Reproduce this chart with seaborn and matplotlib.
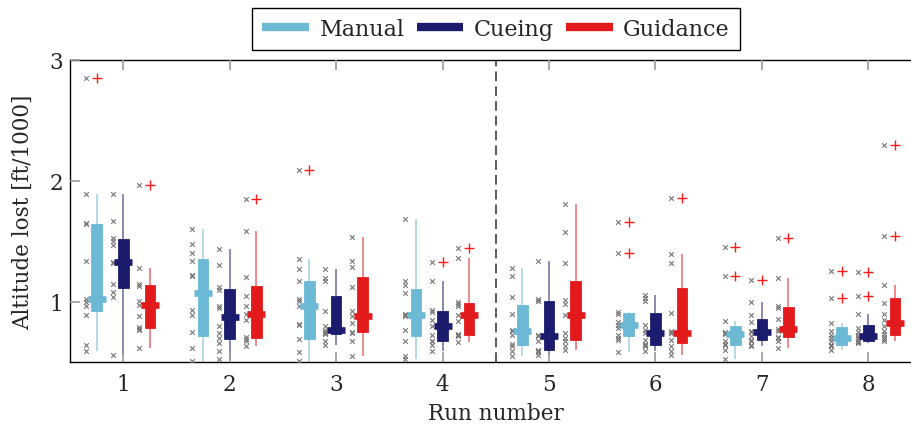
import matplotlib
matplotlib.use("Agg")
import matplotlib.pyplot as plt
import matplotlib.transforms as mtransforms
from matplotlib.lines import Line2D
import pandas as pd
import seaborn as sns

runs = [1, 2, 3, 4, 5, 6, 7, 8]
conditions = ['Manual', 'Cueing', 'Guidance']
colors = ['#6cb9d6', '#1c1c6e', '#e31a1c']

# altitude lost [ft/1000], one list per run
manual = [
    [0.588, 0.638, 0.887, 0.961, 1.00, 1.022, 1.337, 1.64, 1.652, 1.888, 2.85],
    [0.45, 0.505, 0.616, 0.752, 0.892, 0.934, 1.210, 1.224, 1.340, 1.404, 1.473, 1.598],
    [0.46, 0.505, 0.58, 0.693, 0.804, 0.815, 0.961, 1.003, 1.022, 1.174, 1.266, 1.354, 2.087],
    [0.524, 0.546, 0.676, 0.762, 0.884, 0.892, 0.90, 1.072, 1.141, 1.169, 1.68],
    [0.546, 0.588, 0.629, 0.647, 0.726, 0.754, 0.768, 0.898, 1.042, 1.21, 1.279],
    [0.58, 0.685, 0.70, 0.724, 0.781, 0.804, 0.83, 0.90, 0.912, 1.401, 1.661],
    [0.524, 0.602, 0.64, 0.646, 0.671, 0.732, 0.741, 0.75, 0.84, 1.21, 1.451],
    [0.602, 0.63, 0.643, 0.643, 0.671, 0.698, 0.726, 0.754, 0.82, 1.03, 1.252],
]
cueing = [
    [0.555, 1.04, 1.08, 1.146, 1.32, 1.329, 1.47, 1.50, 1.53, 1.667, 1.888],
    [0.524, 0.588, 0.657, 0.70, 0.74, 0.80, 0.946, 0.967, 1.10, 1.12, 1.307, 1.437],
    [0.643, 0.671, 0.73, 0.738, 0.75, 0.762, 0.795, 0.92, 1.169, 1.196, 1.271],
    [0.588, 0.643, 0.671, 0.671, 0.726, 0.795, 0.851, 0.911, 0.929, 1.169, 1.329],
    [0.56, 0.58, 0.59, 0.602, 0.671, 0.712, 0.726, 1.003, 1.003, 1.022, 1.335],
    [0.588, 0.629, 0.64, 0.646, 0.685, 0.74, 0.768, 0.809, 1.003, 1.03, 1.058],
    [0.629, 0.643, 0.672, 0.686, 0.712, 0.748, 0.76, 0.828, 0.892, 0.997, 1.177],
    [0.66, 0.668, 0.67, 0.672, 0.698, 0.705, 0.72, 0.75, 0.78, 0.898, 1.044, 1.243],
]
guidance = [
    [0.615, 0.762, 0.775, 0.787, 0.884, 0.97, 1.003, 1.133, 1.149, 1.279, 1.965],
    [0.635, 0.67, 0.69, 0.706, 0.845, 0.895, 0.961, 1.05, 1.205, 1.584, 1.846],
    [0.552, 0.671, 0.74, 0.752, 0.823, 0.878, 0.92, 1.119, 1.288, 1.335, 1.537],
    [0.663, 0.712, 0.72, 0.732, 0.837, 0.887, 0.961, 0.979, 1.0, 1.357, 1.445],
    [0.596, 0.629, 0.671, 0.70, 0.74, 0.887, 0.983, 1.017, 1.321, 1.575, 1.81],
    [0.56, 0.588, 0.635, 0.679, 0.74, 0.74, 0.754, 0.906, 1.32, 1.398, 1.855],
    [0.615, 0.671, 0.698, 0.71, 0.754, 0.776, 0.856, 0.947, 0.96, 1.196, 1.528],
    [0.671, 0.69, 0.71, 0.729, 0.754, 0.80, 0.846, 0.90, 0.99, 1.141, 1.542, 2.295],
]

rows = []
for cond, series in zip(conditions, [manual, cueing, guidance]):
    for run, values in zip(runs, series):
        for v in values:
            rows.append((cond, run, v))
df = pd.DataFrame(rows, columns=['cond', 'run', 'alt'])
palette = dict(zip(conditions, colors))

sns.set_theme(style='ticks')
fs = 15.5
plt.rcParams['font.family'] = ['DejaVu Serif']
plt.rcParams.update({'font.size': fs, 'axes.labelsize': fs, 'xtick.labelsize': fs,
                     'ytick.labelsize': fs, 'legend.fontsize': 16,
                     'axes.edgecolor': 'black', 'axes.linewidth': 1.0})

fig = plt.figure(figsize=(9.12, 4.27), dpi=100)
ax = fig.add_axes([70 / 912, 64 / 427, 851.5 / 912, 302 / 427])

# boxes, one call per condition so whiskers take the condition colour
for cond in conditions:
    sns.boxplot(data=df[df['cond'] == cond], x='run', y='alt', hue='cond',
                order=runs, hue_order=conditions, palette=palette, saturation=1,
                dodge=True, width=0.75, gap=0.6, linecolor=palette[cond], linewidth=0.6,
                whis=1.5, showcaps=False, fliersize=7,
                flierprops=dict(marker='+', markeredgecolor='#ff1a1a', markeredgewidth=1.0),
                whiskerprops=dict(alpha=0.6, linewidth=1.2),
                medianprops=dict(visible=False),
                legend=False, ax=ax)

# medians as wide short bars
sns.pointplot(data=df, x='run', y='alt', hue='cond', order=runs, hue_order=conditions,
              palette=palette, estimator='median', errorbar=None, dodge=0.5,
              marker='_', linestyle='none', markersize=12.8, markeredgewidth=4.8,
              legend=False, ax=ax, zorder=4)

# raw samples as grey crosses just left of each box
shifts = [-0.35, -0.1, 0.15]
for cond, dx in zip(conditions, shifts):
    n0 = len(ax.collections)
    sns.stripplot(data=df[df['cond'] == cond], x='run', y='alt', order=runs,
                  jitter=False, marker='x', color='#787878', size=3.4, linewidth=0.8,
                  legend=False, ax=ax)
    for coll in ax.collections[n0:]:
        coll.set_offset_transform(mtransforms.Affine2D().translate(dx, 0) + ax.transData)

ax.axvline(len(runs) / 2 - 0.5, color='#5a5a5a', lw=1.4, dashes=(5, 2.6), zorder=1)

ax.set_xlim(-0.5, len(runs) - 0.5)
ax.set_ylim(0.5, 3)
ax.set_yticks([1, 2, 3])
ax.set_xticks(range(len(runs)))
ax.set_xticklabels([str(r) for r in runs])
ax.set_axisbelow(False)
ax.tick_params(axis='both', which='major', direction='in', length=7, width=1.2,
               color='#999999', top=True, right=True)
ax.tick_params(axis='x', pad=8)
ax.tick_params(axis='y', pad=5)
for sp in ax.spines.values():
    sp.set_visible(True)
    sp.set_color('black')
ax.set_xlabel('Run number', labelpad=5)
ax.set_ylabel('Altitude lost [ft/1000]', labelpad=11)

handles = [Line2D([0], [0], color=c, lw=6, solid_capstyle='butt') for c in colors]
leg = fig.legend(handles, conditions, loc='center', bbox_to_anchor=(0.544, 0.93), ncol=3,
                 frameon=True, fancybox=False, edgecolor='black', framealpha=1,
                 handlelength=2.1, handletextpad=0.47, columnspacing=0.55, borderpad=0.45)
leg.get_frame().set_linewidth(1.0)

fig.savefig('out.png', dpi=100)
